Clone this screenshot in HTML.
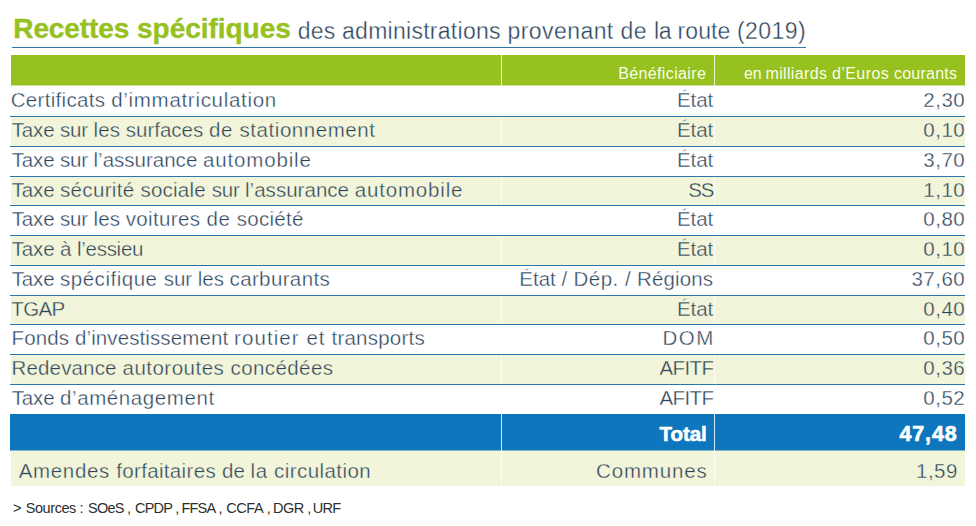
<!DOCTYPE html>
<html><head><meta charset="utf-8"><title>Recettes spécifiques</title>
<style>
html,body{margin:0;padding:0;background:#fff;}
body{width:976px;height:526px;position:relative;overflow:hidden;font-family:"Liberation Sans",sans-serif;}
.b{position:absolute;}
.t{position:absolute;white-space:nowrap;line-height:1;margin:0;padding:0;}
</style></head><body>
<div class="b" style="left:12px;top:47px;width:794px;height:1px;background:#2b76aa;"></div>
<div class="b" style="left:11px;top:55px;width:954px;height:30px;background:#96c11f;"></div>
<div class="b" style="left:11px;top:117px;width:954px;height:29px;background:#f2f5da;"></div>
<div class="b" style="left:11px;top:177px;width:954px;height:28px;background:#f2f5da;"></div>
<div class="b" style="left:11px;top:236px;width:954px;height:29px;background:#f2f5da;"></div>
<div class="b" style="left:11px;top:296px;width:954px;height:28px;background:#f2f5da;"></div>
<div class="b" style="left:11px;top:355px;width:954px;height:29px;background:#f2f5da;"></div>
<div class="b" style="left:11px;top:85px;width:954px;height:1px;background:#96c11f;opacity:.45;"></div>
<div class="b" style="left:10px;top:414px;width:955px;height:36px;background:#0e76bc;"></div>
<div class="b" style="left:11px;top:450px;width:954px;height:36px;background:#f2f5da;"></div>
<div class="b" style="left:10px;top:450px;width:955px;height:1px;background:#0e76bc;opacity:.5;"></div>
<div class="b" style="left:501px;top:55px;width:1px;height:31px;background:rgba(255,255,235,.85);"></div>
<div class="b" style="left:501px;top:86px;width:1px;height:328px;background:rgba(255,255,255,.7);"></div>
<div class="b" style="left:501px;top:414px;width:1px;height:36px;background:rgba(235,250,255,.9);"></div>
<div class="b" style="left:501px;top:450px;width:1px;height:36px;background:rgba(255,255,255,.7);"></div>
<div class="b" style="left:714px;top:55px;width:1px;height:31px;background:rgba(255,255,235,.85);"></div>
<div class="b" style="left:714px;top:86px;width:1px;height:328px;background:rgba(255,255,255,.7);"></div>
<div class="b" style="left:714px;top:414px;width:1px;height:36px;background:rgba(235,250,255,.9);"></div>
<div class="b" style="left:714px;top:450px;width:1px;height:36px;background:rgba(255,255,255,.7);"></div>
<div class="b" style="left:10px;top:116px;width:955px;height:1px;background:#2b76aa;"></div>
<div class="b" style="left:10px;top:146px;width:955px;height:1px;background:#2b76aa;"></div>
<div class="b" style="left:10px;top:176px;width:955px;height:1px;background:#2b76aa;"></div>
<div class="b" style="left:10px;top:205px;width:955px;height:1px;background:#2b76aa;"></div>
<div class="b" style="left:10px;top:235px;width:955px;height:1px;background:#2b76aa;"></div>
<div class="b" style="left:10px;top:265px;width:955px;height:1px;background:#2b76aa;"></div>
<div class="b" style="left:10px;top:295px;width:955px;height:1px;background:#2b76aa;"></div>
<div class="b" style="left:10px;top:324px;width:955px;height:1px;background:#2b76aa;"></div>
<div class="b" style="left:10px;top:354px;width:955px;height:1px;background:#2b76aa;"></div>
<div class="b" style="left:10px;top:384px;width:955px;height:1px;background:#2b76aa;"></div>
<div class="t" style="left:13.25px;top:15.19px;font-size:28px;font-weight:bold;color:#96c11f;letter-spacing:-0.084px;-webkit-text-stroke:0.4px #96c11f;">Recettes</div>
<div class="t" style="left:137.00px;top:15.19px;font-size:28px;font-weight:bold;color:#96c11f;letter-spacing:-0.023px;-webkit-text-stroke:0.4px #96c11f;">spécifiques</div>
<div class="t" style="left:297.75px;top:19.73px;font-size:23px;font-weight:normal;color:#2b435b;letter-spacing:0.194px;-webkit-text-stroke:0.35px #ffffff;">des</div>
<div class="t" style="left:342.00px;top:19.73px;font-size:23px;font-weight:normal;color:#2b435b;letter-spacing:0.277px;-webkit-text-stroke:0.35px #ffffff;">administrations</div>
<div class="t" style="left:507.50px;top:19.73px;font-size:23px;font-weight:normal;color:#2b435b;letter-spacing:0.431px;-webkit-text-stroke:0.35px #ffffff;">provenant</div>
<div class="t" style="left:620.50px;top:19.73px;font-size:23px;font-weight:normal;color:#2b435b;letter-spacing:0.509px;-webkit-text-stroke:0.35px #ffffff;">de</div>
<div class="t" style="left:654.00px;top:19.73px;font-size:23px;font-weight:normal;color:#2b435b;letter-spacing:-0.264px;-webkit-text-stroke:0.35px #ffffff;">la</div>
<div class="t" style="left:677.50px;top:19.73px;font-size:23px;font-weight:normal;color:#2b435b;letter-spacing:0.114px;-webkit-text-stroke:0.35px #ffffff;">route</div>
<div class="t" style="left:737.00px;top:19.73px;font-size:23px;font-weight:normal;color:#2b435b;letter-spacing:0.435px;-webkit-text-stroke:0.35px #ffffff;">(2019)</div>
<div class="t" style="left:10.75px;top:90.24px;font-size:20.5px;font-weight:normal;color:#2b435b;letter-spacing:0.306px;-webkit-text-stroke:0.35px #ffffff;">Certificats</div>
<div class="t" style="left:111.25px;top:90.24px;font-size:20.5px;font-weight:normal;color:#2b435b;letter-spacing:0.694px;-webkit-text-stroke:0.35px #ffffff;">d’immatriculation</div>
<div class="t" style="left:677.00px;top:90.24px;font-size:20.5px;font-weight:normal;color:#2b435b;letter-spacing:-0.057px;-webkit-text-stroke:0.35px #ffffff;">État</div>
<div class="t" style="left:11.70px;top:120.02px;font-size:20.5px;font-weight:normal;color:#2b435b;letter-spacing:-0.140px;-webkit-text-stroke:0.35px #f2f5da;">Taxe</div>
<div class="t" style="left:60.00px;top:120.02px;font-size:20.5px;font-weight:normal;color:#2b435b;letter-spacing:-0.168px;-webkit-text-stroke:0.35px #f2f5da;">sur</div>
<div class="t" style="left:93.50px;top:120.02px;font-size:20.5px;font-weight:normal;color:#2b435b;letter-spacing:0.087px;-webkit-text-stroke:0.35px #f2f5da;">les</div>
<div class="t" style="left:125.75px;top:120.02px;font-size:20.5px;font-weight:normal;color:#2b435b;letter-spacing:-0.002px;-webkit-text-stroke:0.35px #f2f5da;">surfaces</div>
<div class="t" style="left:208.90px;top:120.02px;font-size:20.5px;font-weight:normal;color:#2b435b;letter-spacing:0.701px;-webkit-text-stroke:0.35px #f2f5da;">de</div>
<div class="t" style="left:239.50px;top:120.02px;font-size:20.5px;font-weight:normal;color:#2b435b;letter-spacing:0.556px;-webkit-text-stroke:0.35px #f2f5da;">stationnement</div>
<div class="t" style="left:677.00px;top:120.02px;font-size:20.5px;font-weight:normal;color:#2b435b;letter-spacing:-0.057px;-webkit-text-stroke:0.35px #f2f5da;">État</div>
<div class="t" style="left:11.70px;top:149.80px;font-size:20.5px;font-weight:normal;color:#2b435b;letter-spacing:-0.140px;-webkit-text-stroke:0.35px #ffffff;">Taxe</div>
<div class="t" style="left:60.00px;top:149.80px;font-size:20.5px;font-weight:normal;color:#2b435b;letter-spacing:-0.168px;-webkit-text-stroke:0.35px #ffffff;">sur</div>
<div class="t" style="left:93.50px;top:149.80px;font-size:20.5px;font-weight:normal;color:#2b435b;letter-spacing:0.009px;-webkit-text-stroke:0.35px #ffffff;">l’assurance</div>
<div class="t" style="left:203.00px;top:149.80px;font-size:20.5px;font-weight:normal;color:#2b435b;letter-spacing:0.846px;-webkit-text-stroke:0.35px #ffffff;">automobile</div>
<div class="t" style="left:677.00px;top:149.80px;font-size:20.5px;font-weight:normal;color:#2b435b;letter-spacing:-0.057px;-webkit-text-stroke:0.35px #ffffff;">État</div>
<div class="t" style="left:11.70px;top:179.58px;font-size:20.5px;font-weight:normal;color:#2b435b;letter-spacing:-0.140px;-webkit-text-stroke:0.35px #f2f5da;">Taxe</div>
<div class="t" style="left:60.00px;top:179.58px;font-size:20.5px;font-weight:normal;color:#2b435b;letter-spacing:0.336px;-webkit-text-stroke:0.35px #f2f5da;">sécurité</div>
<div class="t" style="left:140.50px;top:179.58px;font-size:20.5px;font-weight:normal;color:#2b435b;letter-spacing:0.218px;-webkit-text-stroke:0.35px #f2f5da;">sociale</div>
<div class="t" style="left:211.75px;top:179.58px;font-size:20.5px;font-weight:normal;color:#2b435b;letter-spacing:-0.231px;-webkit-text-stroke:0.35px #f2f5da;">sur</div>
<div class="t" style="left:245.00px;top:179.58px;font-size:20.5px;font-weight:normal;color:#2b435b;letter-spacing:0.030px;-webkit-text-stroke:0.35px #f2f5da;">l’assurance</div>
<div class="t" style="left:354.75px;top:179.58px;font-size:20.5px;font-weight:normal;color:#2b435b;letter-spacing:0.818px;-webkit-text-stroke:0.35px #f2f5da;">automobile</div>
<div class="t" style="left:688.26px;top:179.58px;font-size:20.5px;font-weight:normal;color:#2b435b;letter-spacing:-1.200px;-webkit-text-stroke:0.35px #f2f5da;">SS</div>
<div class="t" style="left:11.70px;top:209.36px;font-size:20.5px;font-weight:normal;color:#2b435b;letter-spacing:-0.140px;-webkit-text-stroke:0.35px #ffffff;">Taxe</div>
<div class="t" style="left:60.00px;top:209.36px;font-size:20.5px;font-weight:normal;color:#2b435b;letter-spacing:-0.168px;-webkit-text-stroke:0.35px #ffffff;">sur</div>
<div class="t" style="left:93.50px;top:209.36px;font-size:20.5px;font-weight:normal;color:#2b435b;letter-spacing:0.087px;-webkit-text-stroke:0.35px #ffffff;">les</div>
<div class="t" style="left:125.75px;top:209.36px;font-size:20.5px;font-weight:normal;color:#2b435b;letter-spacing:0.353px;-webkit-text-stroke:0.35px #ffffff;">voitures</div>
<div class="t" style="left:206.40px;top:209.36px;font-size:20.5px;font-weight:normal;color:#2b435b;letter-spacing:0.617px;-webkit-text-stroke:0.35px #ffffff;">de</div>
<div class="t" style="left:236.75px;top:209.36px;font-size:20.5px;font-weight:normal;color:#2b435b;letter-spacing:0.283px;-webkit-text-stroke:0.35px #ffffff;">société</div>
<div class="t" style="left:677.00px;top:209.36px;font-size:20.5px;font-weight:normal;color:#2b435b;letter-spacing:-0.057px;-webkit-text-stroke:0.35px #ffffff;">État</div>
<div class="t" style="left:11.70px;top:239.14px;font-size:20.5px;font-weight:normal;color:#2b435b;letter-spacing:-0.140px;-webkit-text-stroke:0.35px #f2f5da;">Taxe</div>
<div class="t" style="left:60.00px;top:239.14px;font-size:20.5px;font-weight:normal;color:#2b435b;letter-spacing:-0.048px;-webkit-text-stroke:0.35px #f2f5da;">à</div>
<div class="t" style="left:77.00px;top:239.14px;font-size:20.5px;font-weight:normal;color:#2b435b;letter-spacing:-0.281px;-webkit-text-stroke:0.35px #f2f5da;">l’essieu</div>
<div class="t" style="left:677.00px;top:239.14px;font-size:20.5px;font-weight:normal;color:#2b435b;letter-spacing:-0.057px;-webkit-text-stroke:0.35px #f2f5da;">État</div>
<div class="t" style="left:11.70px;top:268.92px;font-size:20.5px;font-weight:normal;color:#2b435b;letter-spacing:-0.140px;-webkit-text-stroke:0.35px #ffffff;">Taxe</div>
<div class="t" style="left:60.00px;top:268.92px;font-size:20.5px;font-weight:normal;color:#2b435b;letter-spacing:0.522px;-webkit-text-stroke:0.35px #ffffff;">spécifique</div>
<div class="t" style="left:163.75px;top:268.92px;font-size:20.5px;font-weight:normal;color:#2b435b;letter-spacing:-0.043px;-webkit-text-stroke:0.35px #ffffff;">sur</div>
<div class="t" style="left:197.75px;top:268.92px;font-size:20.5px;font-weight:normal;color:#2b435b;letter-spacing:-0.038px;-webkit-text-stroke:0.35px #ffffff;">les</div>
<div class="t" style="left:229.50px;top:268.92px;font-size:20.5px;font-weight:normal;color:#2b435b;letter-spacing:0.377px;-webkit-text-stroke:0.35px #ffffff;">carburants</div>
<div class="t" style="left:519.30px;top:268.92px;font-size:20.5px;font-weight:normal;color:#2b435b;letter-spacing:-0.012px;-webkit-text-stroke:0.35px #ffffff;">État</div>
<div class="t" style="left:561.40px;top:268.92px;font-size:20.5px;font-weight:normal;color:#2b435b;letter-spacing:0.304px;-webkit-text-stroke:0.35px #ffffff;">/</div>
<div class="t" style="left:573.40px;top:268.92px;font-size:20.5px;font-weight:normal;color:#2b435b;letter-spacing:0.520px;-webkit-text-stroke:0.35px #ffffff;">Dép.</div>
<div class="t" style="left:625.00px;top:268.92px;font-size:20.5px;font-weight:normal;color:#2b435b;letter-spacing:0.304px;-webkit-text-stroke:0.35px #ffffff;">/</div>
<div class="t" style="left:637.00px;top:268.92px;font-size:20.5px;font-weight:normal;color:#2b435b;letter-spacing:0.139px;-webkit-text-stroke:0.35px #ffffff;">Régions</div>
<div class="t" style="left:11.25px;top:298.70px;font-size:20.5px;font-weight:normal;color:#2b435b;letter-spacing:-0.630px;-webkit-text-stroke:0.35px #f2f5da;">TGAP</div>
<div class="t" style="left:677.00px;top:298.70px;font-size:20.5px;font-weight:normal;color:#2b435b;letter-spacing:-0.057px;-webkit-text-stroke:0.35px #f2f5da;">État</div>
<div class="t" style="left:11.50px;top:328.48px;font-size:20.5px;font-weight:normal;color:#2b435b;letter-spacing:0.138px;-webkit-text-stroke:0.35px #ffffff;">Fonds</div>
<div class="t" style="left:75.00px;top:328.48px;font-size:20.5px;font-weight:normal;color:#2b435b;letter-spacing:0.104px;-webkit-text-stroke:0.35px #ffffff;">d’investissement</div>
<div class="t" style="left:234.00px;top:328.48px;font-size:20.5px;font-weight:normal;color:#2b435b;letter-spacing:1.087px;-webkit-text-stroke:0.35px #ffffff;">routier</div>
<div class="t" style="left:306.50px;top:328.48px;font-size:20.5px;font-weight:normal;color:#2b435b;letter-spacing:0.736px;-webkit-text-stroke:0.35px #ffffff;">et</div>
<div class="t" style="left:331.50px;top:328.48px;font-size:20.5px;font-weight:normal;color:#2b435b;letter-spacing:0.233px;-webkit-text-stroke:0.35px #ffffff;">transports</div>
<div class="t" style="left:662.52px;top:328.48px;font-size:20.5px;font-weight:normal;color:#2b435b;letter-spacing:1.500px;-webkit-text-stroke:0.35px #ffffff;">DOM</div>
<div class="t" style="left:11.50px;top:358.26px;font-size:20.5px;font-weight:normal;color:#2b435b;letter-spacing:0.159px;-webkit-text-stroke:0.35px #f2f5da;">Redevance</div>
<div class="t" style="left:122.50px;top:358.26px;font-size:20.5px;font-weight:normal;color:#2b435b;letter-spacing:0.494px;-webkit-text-stroke:0.35px #f2f5da;">autoroutes</div>
<div class="t" style="left:230.50px;top:358.26px;font-size:20.5px;font-weight:normal;color:#2b435b;letter-spacing:0.418px;-webkit-text-stroke:0.35px #f2f5da;">concédées</div>
<div class="t" style="left:659.50px;top:358.26px;font-size:20.5px;font-weight:normal;color:#2b435b;letter-spacing:-0.603px;-webkit-text-stroke:0.35px #f2f5da;">AFITF</div>
<div class="t" style="left:11.70px;top:388.04px;font-size:20.5px;font-weight:normal;color:#2b435b;letter-spacing:-0.140px;-webkit-text-stroke:0.35px #ffffff;">Taxe</div>
<div class="t" style="left:60.00px;top:388.04px;font-size:20.5px;font-weight:normal;color:#2b435b;letter-spacing:0.599px;-webkit-text-stroke:0.35px #ffffff;">d’aménagement</div>
<div class="t" style="left:659.50px;top:388.04px;font-size:20.5px;font-weight:normal;color:#2b435b;letter-spacing:-0.603px;-webkit-text-stroke:0.35px #ffffff;">AFITF</div>
<div class="t" style="left:618.20px;top:65.75px;font-size:16px;font-weight:normal;color:#fbfde8;letter-spacing:0.372px;">Bénéficiaire</div>
<div class="t" style="left:744.00px;top:65.75px;font-size:16px;font-weight:normal;color:#fbfde8;letter-spacing:-0.247px;">en</div>
<div class="t" style="left:765.50px;top:65.75px;font-size:16px;font-weight:normal;color:#fbfde8;letter-spacing:0.338px;">milliards</div>
<div class="t" style="left:832.00px;top:65.75px;font-size:16px;font-weight:normal;color:#fbfde8;letter-spacing:0.413px;">d’Euros</div>
<div class="t" style="left:894.00px;top:65.75px;font-size:16px;font-weight:normal;color:#fbfde8;letter-spacing:0.233px;">courants</div>
<div class="t" style="left:659.40px;top:424.14px;font-size:20.5px;font-weight:bold;color:#ffffff;letter-spacing:-0.013px;-webkit-text-stroke:0.6px #fff;">Total</div>
<div class="t" style="left:899.40px;top:423.80px;font-size:21.5px;font-weight:bold;color:#ffffff;letter-spacing:0.889px;-webkit-text-stroke:0.6px #fff;">47,48</div>
<div class="t" style="left:18.75px;top:460.84px;font-size:20.5px;font-weight:normal;color:#2b435b;letter-spacing:0.650px;-webkit-text-stroke:0.35px #f2f5da;">Amendes</div>
<div class="t" style="left:116.25px;top:460.84px;font-size:20.5px;font-weight:normal;color:#2b435b;letter-spacing:0.335px;-webkit-text-stroke:0.35px #f2f5da;">forfaitaires</div>
<div class="t" style="left:222.00px;top:460.84px;font-size:20.5px;font-weight:normal;color:#2b435b;letter-spacing:0.001px;-webkit-text-stroke:0.35px #f2f5da;">de</div>
<div class="t" style="left:250.50px;top:460.84px;font-size:20.5px;font-weight:normal;color:#2b435b;letter-spacing:0.616px;-webkit-text-stroke:0.35px #f2f5da;">la</div>
<div class="t" style="left:274.00px;top:460.84px;font-size:20.5px;font-weight:normal;color:#2b435b;letter-spacing:0.436px;-webkit-text-stroke:0.35px #f2f5da;">circulation</div>
<div class="t" style="left:596.00px;top:460.84px;font-size:20.5px;font-weight:normal;color:#2b435b;letter-spacing:0.848px;-webkit-text-stroke:0.35px #f2f5da;">Communes</div>
<div class="t" style="left:13.00px;top:500.72px;font-size:14.5px;font-weight:normal;color:#2e2e2e;letter-spacing:0.127px;">&gt;</div>
<div class="t" style="left:25.75px;top:500.72px;font-size:14.5px;font-weight:normal;color:#2e2e2e;letter-spacing:-0.434px;">Sources</div>
<div class="t" style="left:79.50px;top:500.72px;font-size:14.5px;font-weight:normal;color:#2e2e2e;letter-spacing:0.221px;">:</div>
<div class="t" style="left:88.00px;top:500.72px;font-size:14.5px;font-weight:normal;color:#2e2e2e;letter-spacing:-0.743px;">SOeS</div>
<div class="t" style="left:127.00px;top:500.72px;font-size:14.5px;font-weight:normal;color:#2e2e2e;letter-spacing:-0.029px;">,</div>
<div class="t" style="left:135.00px;top:500.72px;font-size:14.5px;font-weight:normal;color:#2e2e2e;letter-spacing:-0.800px;">CPDP</div>
<div class="t" style="left:175.25px;top:500.72px;font-size:14.5px;font-weight:normal;color:#2e2e2e;letter-spacing:-0.800px;">,</div>
<div class="t" style="left:181.50px;top:500.72px;font-size:14.5px;font-weight:normal;color:#2e2e2e;letter-spacing:-0.800px;">FFSA</div>
<div class="t" style="left:218.50px;top:500.72px;font-size:14.5px;font-weight:normal;color:#2e2e2e;letter-spacing:-0.154px;">,</div>
<div class="t" style="left:226.25px;top:500.72px;font-size:14.5px;font-weight:normal;color:#2e2e2e;letter-spacing:-0.440px;">CCFA</div>
<div class="t" style="left:266.75px;top:500.72px;font-size:14.5px;font-weight:normal;color:#2e2e2e;letter-spacing:-0.800px;">,</div>
<div class="t" style="left:273.00px;top:500.72px;font-size:14.5px;font-weight:normal;color:#2e2e2e;letter-spacing:-0.500px;">DGR</div>
<div class="t" style="left:307.25px;top:500.72px;font-size:14.5px;font-weight:normal;color:#2e2e2e;letter-spacing:-0.779px;">,</div>
<div class="t" style="left:312.83px;top:500.72px;font-size:14.5px;font-weight:normal;color:#2e2e2e;letter-spacing:-0.800px;">URF</div>
<div class="t" style="left:923.30px;top:90.24px;font-size:20.5px;font-weight:normal;color:#2b435b;letter-spacing:0.500px;-webkit-text-stroke:0.35px #ffffff;">2,30</div>
<div class="t" style="left:923.30px;top:120.02px;font-size:20.5px;font-weight:normal;color:#2b435b;letter-spacing:0.500px;-webkit-text-stroke:0.35px #f2f5da;">0,10</div>
<div class="t" style="left:923.30px;top:149.80px;font-size:20.5px;font-weight:normal;color:#2b435b;letter-spacing:0.500px;-webkit-text-stroke:0.35px #ffffff;">3,70</div>
<div class="t" style="left:923.30px;top:179.58px;font-size:20.5px;font-weight:normal;color:#2b435b;letter-spacing:0.500px;-webkit-text-stroke:0.35px #f2f5da;">1,10</div>
<div class="t" style="left:923.30px;top:209.36px;font-size:20.5px;font-weight:normal;color:#2b435b;letter-spacing:0.500px;-webkit-text-stroke:0.35px #ffffff;">0,80</div>
<div class="t" style="left:923.30px;top:239.14px;font-size:20.5px;font-weight:normal;color:#2b435b;letter-spacing:0.500px;-webkit-text-stroke:0.35px #f2f5da;">0,10</div>
<div class="t" style="left:911.40px;top:268.92px;font-size:20.5px;font-weight:normal;color:#2b435b;letter-spacing:0.500px;-webkit-text-stroke:0.35px #ffffff;">37,60</div>
<div class="t" style="left:923.30px;top:298.70px;font-size:20.5px;font-weight:normal;color:#2b435b;letter-spacing:0.500px;-webkit-text-stroke:0.35px #f2f5da;">0,40</div>
<div class="t" style="left:923.30px;top:328.48px;font-size:20.5px;font-weight:normal;color:#2b435b;letter-spacing:0.500px;-webkit-text-stroke:0.35px #ffffff;">0,50</div>
<div class="t" style="left:923.30px;top:358.26px;font-size:20.5px;font-weight:normal;color:#2b435b;letter-spacing:0.500px;-webkit-text-stroke:0.35px #f2f5da;">0,36</div>
<div class="t" style="left:923.30px;top:388.04px;font-size:20.5px;font-weight:normal;color:#2b435b;letter-spacing:0.500px;-webkit-text-stroke:0.35px #ffffff;">0,52</div>
<div class="t" style="left:916.00px;top:460.84px;font-size:20.5px;font-weight:normal;color:#2b435b;letter-spacing:0.500px;-webkit-text-stroke:0.35px #f2f5da;">1,59</div>
</body></html>
